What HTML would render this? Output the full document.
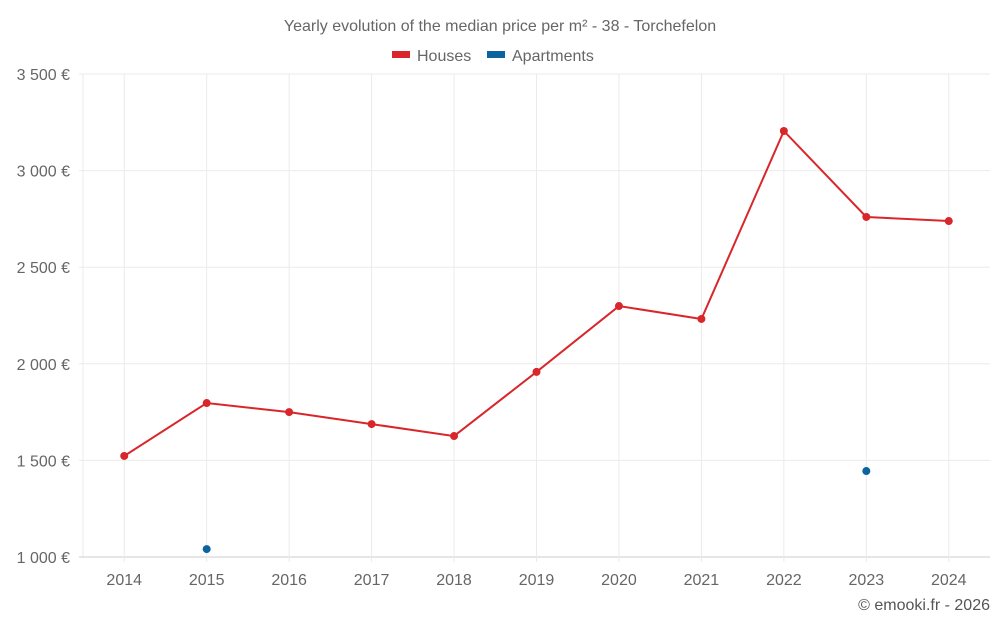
<!DOCTYPE html>
<html><head><meta charset="utf-8">
<style>
body{margin:0;background:#fff;font-family:"Liberation Sans",sans-serif;}
svg text{font-family:"Liberation Sans",sans-serif;}
</style></head>
<body>
<svg id="chart" width="1000" height="625">
<text x="500" y="31" text-anchor="middle" font-size="16" fill="#666">Yearly evolution of the median price per m² - 38 - Torchefelon</text>
<g>
<g><rect x="392" y="51" width="18" height="7" fill="#d9262a"/><text x="417" y="61" font-size="16" fill="#666">Houses</text></g>
<g><rect x="487" y="51" width="18" height="7" fill="#0b64a0"/><text x="512" y="61" font-size="16" fill="#666">Apartments</text></g>
</g>
<g id="grid"></g><g id="axes"></g><g id="marks"></g>
<text x="990" y="610" text-anchor="end" font-size="16" fill="#555">© emooki.fr - 2026</text>
</svg>
<script>
const categories=["2014","2015","2016","2017","2018","2019","2020","2021","2022","2023","2024"];
const houses=[1523,1797,1750,1688,1626,1958,2299,2232,3205,2760,2739];
const apartments=[null,1041,null,null,null,null,null,null,null,1445,null];
const yTicks=[1000,1500,2000,2500,3000,3500];
const yLabels=["1 000 €","1 500 €","2 000 €","2 500 €","3 000 €","3 500 €"];
const NS="http://www.w3.org/2000/svg";
const L=83,R=990,T=74,B=557,yMin=1000,yMax=3500;
const bw=(R-L)/categories.length;
const x=i=>L+bw*(i+0.5);
const y=v=>B-(v-yMin)/(yMax-yMin)*(B-T);
function mk(tag,attrs,parent){const e=document.createElementNS(NS,tag);for(const k in attrs)e.setAttribute(k,attrs[k]);parent.appendChild(e);return e;}
const grid=document.getElementById('grid'),axes=document.getElementById('axes'),marks=document.getElementById('marks');
const lg=mk('line',{x1:L,x2:L,y1:T,y2:B,stroke:'#ebebeb'},grid);


yTicks.forEach((t,i)=>{
 const gl=mk('line',{x1:L-4,x2:R,y1:y(t),y2:y(t),stroke:i===0?'#ccc':'#ebebeb'},grid);
 
 
 const tx=mk('text',{x:70,y:y(t)+6,'text-anchor':'end','font-size':16,fill:'#666'},axes);
 tx.textContent=yLabels[i];
 
 
});
categories.forEach((c,i)=>{
 const gl=mk('line',{x1:x(i),x2:x(i),y1:T,y2:B+5,stroke:'#ebebeb'},grid);
 
 
 const tx=mk('text',{x:x(i),y:585,'text-anchor':'middle','font-size':16,fill:'#666'},axes);
 tx.textContent=c;
 
 
});
const pts=houses.map((v,i)=>x(i)+','+y(v)).join(' ');
const line=mk('polyline',{points:pts,fill:'none',stroke:'#d9262a','stroke-width':2},marks);


houses.forEach((v,i)=>{
 const c=mk('circle',{cx:x(i),cy:y(v),r:4,fill:'#d9262a'},marks);
 
 
});
apartments.forEach((v,i)=>{
 if(v==null)return;
 const c=mk('circle',{cx:x(i),cy:y(v),r:4,fill:'#0b64a0'},marks);
 
 
});
</script>
</body></html>
